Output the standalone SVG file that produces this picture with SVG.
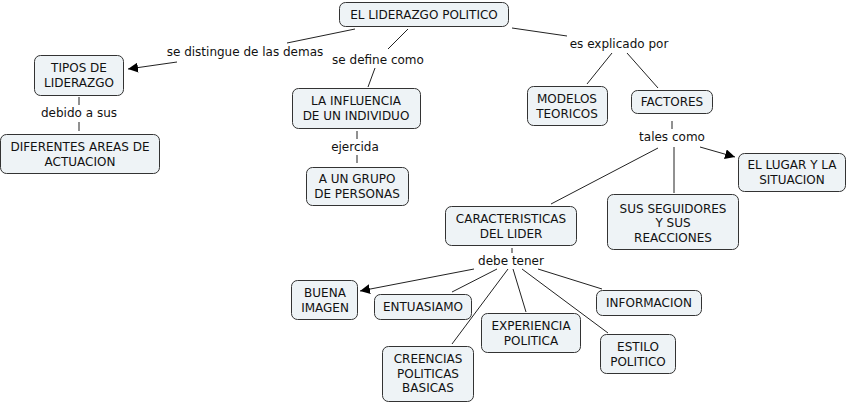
<svg xmlns="http://www.w3.org/2000/svg" width="848" height="402" viewBox="0 0 848 402">
<style>
.n rect{fill:#EEF3F6;stroke:#333;stroke-width:1}
text{font-family:"DejaVu Sans",Verdana,sans-serif;font-size:12px;fill:#111;text-anchor:middle}
.c line{stroke:#222;stroke-width:1}
</style>
<defs>
<marker id="a" viewBox="0 0 10 10" refX="10" refY="5" markerWidth="10" markerHeight="10" markerUnits="userSpaceOnUse" orient="auto"><path d="M0,0L10,5L0,10z" fill="#000"/></marker>
</defs>
<rect width="848" height="402" fill="#fff"/>
<g class="c">
<line x1="355" y1="29" x2="287" y2="43"/>
<line x1="177" y1="62" x2="128" y2="69" marker-end="url(#a)"/>
<line x1="408" y1="29" x2="388" y2="49"/>
<line x1="375" y1="68" x2="368" y2="87"/>
<line x1="512" y1="28" x2="567" y2="36"/>
<line x1="612" y1="53" x2="587" y2="84"/>
<line x1="627" y1="53" x2="658" y2="88"/>
<line x1="79" y1="97" x2="79" y2="105"/>
<line x1="79" y1="122" x2="79" y2="131"/>
<line x1="357" y1="131" x2="357" y2="139"/>
<line x1="357" y1="155" x2="357" y2="163"/>
<line x1="672" y1="121" x2="672" y2="129"/>
<line x1="658" y1="148" x2="551" y2="204"/>
<line x1="674" y1="147" x2="674" y2="193"/>
<line x1="700" y1="147" x2="735" y2="157" marker-end="url(#a)"/>
<line x1="512" y1="248" x2="512" y2="253"/>
<line x1="474" y1="269" x2="360" y2="291" marker-end="url(#a)"/>
<line x1="497" y1="269" x2="452" y2="292"/>
<line x1="508" y1="269" x2="452" y2="344"/>
<line x1="513" y1="269" x2="526" y2="312"/>
<line x1="522" y1="269" x2="608" y2="333"/>
<line x1="538" y1="269" x2="602" y2="289"/>
</g>
<g id="lp">
<text x="245" y="56">se distingue de las demas</text>
<text x="378" y="64">se define como</text>
<text x="619" y="48">es explicado por</text>
<text x="79" y="117">debido a sus</text>
<text x="355" y="151">ejercida</text>
<text x="672" y="141">tales como</text>
<text x="511" y="265">debe tener</text>
</g>
<g id="n1" class="n"><rect x="339.5" y="2.5" width="169" height="24" rx="6"/><text x="424" y="19">EL LIDERAZGO POLITICO</text></g>
<g id="n2" class="n"><rect x="34.5" y="55.5" width="89" height="40" rx="6"/><text x="79" y="72">TIPOS DE</text><text x="79" y="87">LIDERAZGO</text></g>
<g id="n3" class="n"><rect x="0.5" y="134.5" width="159" height="39" rx="6"/><text x="80" y="151">DIFERENTES AREAS DE</text><text x="80" y="166">ACTUACION</text></g>
<g id="n4" class="n"><rect x="292.5" y="88.5" width="128" height="40" rx="6"/><text x="356" y="105">LA INFLUENCIA</text><text x="356" y="120">DE UN INDIVIDUO</text></g>
<g id="n5" class="n"><rect x="306.5" y="167.5" width="102" height="38" rx="6"/><text x="357" y="183">A UN GRUPO</text><text x="357" y="198">DE PERSONAS</text></g>
<g id="n6" class="n"><rect x="527.5" y="86.5" width="80" height="39" rx="6"/><text x="567" y="103">MODELOS</text><text x="567" y="118">TEORICOS</text></g>
<g id="n7" class="n"><rect x="631.5" y="90.5" width="81" height="23" rx="6"/><text x="672" y="106">FACTORES</text></g>
<g id="n8" class="n"><rect x="738.5" y="153.5" width="107" height="38" rx="6"/><text x="792" y="169">EL LUGAR Y LA</text><text x="792" y="184">SITUACION</text></g>
<g id="n9" class="n"><rect x="445.5" y="206.5" width="131" height="39" rx="6"/><text x="511" y="223">CARACTERISTICAS</text><text x="511" y="238">DEL LIDER</text></g>
<g id="n10" class="n"><rect x="607.5" y="194.5" width="131" height="55" rx="6"/><text x="673" y="213">SUS SEGUIDORES</text><text x="673" y="227">Y SUS</text><text x="673" y="242">REACCIONES</text></g>
<g id="n11" class="n"><rect x="291.5" y="280.5" width="66" height="39" rx="6"/><text x="325" y="297">BUENA</text><text x="325" y="312">IMAGEN</text></g>
<g id="n12" class="n"><rect x="374.5" y="294.5" width="97" height="25" rx="6"/><text x="423" y="311">ENTUASIAMO</text></g>
<g id="n13" class="n"><rect x="481.5" y="313.5" width="99" height="39" rx="6"/><text x="531" y="330">EXPERIENCIA</text><text x="531" y="345">POLITICA</text></g>
<g id="n14" class="n"><rect x="596.5" y="290.5" width="105" height="25" rx="6"/><text x="649" y="307">INFORMACION</text></g>
<g id="n15" class="n"><rect x="600.5" y="334.5" width="75" height="39" rx="6"/><text x="638" y="351">ESTILO</text><text x="638" y="366">POLITICO</text></g>
<g id="n16" class="n"><rect x="382.5" y="346.5" width="91" height="55" rx="6"/><text x="428" y="363">CREENCIAS</text><text x="428" y="378">POLITICAS</text><text x="428" y="392">BASICAS</text></g>
</svg>
